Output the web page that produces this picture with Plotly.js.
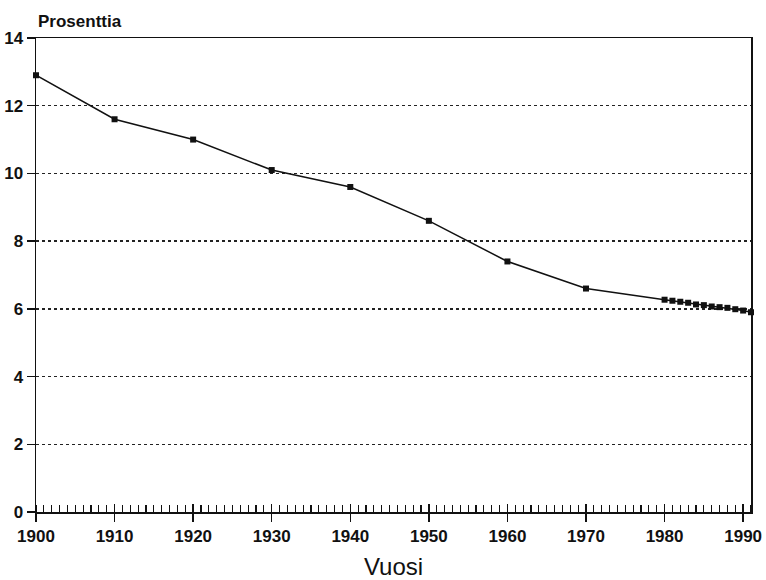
<!DOCTYPE html>
<html>
<head>
<meta charset="utf-8">
<script src="https://cdn.plot.ly/plotly-3.0.1.min.js"></script>
<style>html,body{margin:0;padding:0;background:#fff;}#chart{width:766px;height:580px;}</style>
</head>
<body>
<div id="chart"></div>
<script>
const years = [1900, 1910, 1920, 1930, 1940, 1950, 1960, 1970, 1980, 1981, 1982, 1983, 1984, 1985, 1986, 1987, 1988, 1989, 1990, 1991];
const percent = [12.9, 11.6, 11.0, 10.1, 9.6, 8.6, 7.4, 6.6, 6.27, 6.24, 6.21, 6.18, 6.13, 6.11, 6.07, 6.05, 6.03, 5.99, 5.95, 5.90];
const xTickVals = [1900, 1910, 1920, 1930, 1940, 1950, 1960, 1970, 1980, 1990];
const yTickVals = [0, 2, 4, 6, 8, 10, 12, 14];
const yLabel = "Prosenttia";
const xLabel = "Vuosi";

const tickFont = {family: "Liberation Sans, Arial, sans-serif", size: 17, color: "#111", weight: "bold"};

const data = [{
  x: years, y: percent, type: "scatter", mode: "lines+markers",
  line: {color: "#111", width: 1.5},
  marker: {symbol: "square", size: 6, color: "#111"},
  showlegend: false, cliponaxis: false
}, {
  x: [years[0]], y: [percent[0]], xaxis: "x2", type: "scatter", mode: "markers",
  marker: {opacity: 0}, showlegend: false, hoverinfo: "skip"
}];

const layout = {
  width: 766, height: 580,
  margin: {l: 36, r: 15, t: 38, b: 68},
  paper_bgcolor: "#fff", plot_bgcolor: "#fff",
  xaxis: {
    range: [1900, 1991], tickvals: xTickVals, ticks: "outside", ticklen: 8, tickwidth: 1.5, tickcolor: "#111",
    minor: {dtick: 1, tick0: 1900, ticks: "inside", ticklen: 7, tickwidth: 1.2, tickcolor: "#111", showgrid: false},
    showline: true, linecolor: "#111", linewidth: 1.5, mirror: true, showgrid: false, zeroline: false,
    tickfont: tickFont,
    title: {text: xLabel, font: {family: "Liberation Sans, Arial, sans-serif", size: 24, color: "#111"}, standoff: 15}
  },
  xaxis2: {
    overlaying: "x", matches: "x", range: [1900, 1991], side: "bottom", anchor: "y",
    tickvals: xTickVals, ticks: "inside", ticklen: 8, tickwidth: 1.5, tickcolor: "#111",
    showticklabels: false, showgrid: false, zeroline: false, showline: false
  },
  yaxis: {
    range: [0, 14], tickvals: yTickVals, ticks: "outside", ticklen: 8, tickwidth: 1.5, tickcolor: "#111",
    showline: true, linecolor: "#111", linewidth: 1.5, mirror: true,
    showgrid: true, gridcolor: "#222", griddash: "dot", gridwidth: 1.3, zeroline: false,
    tickfont: tickFont
  },
  annotations: [{
    text: yLabel, xref: "paper", yref: "paper", x: 0, y: 1, xanchor: "left", yanchor: "bottom",
    xshift: 0, yshift: 5, showarrow: false,
    font: {family: "Liberation Sans, Arial, sans-serif", size: 17, color: "#111", weight: "bold"}
  }]
};

Plotly.newPlot("chart", data, layout, {displayModeBar: false, staticPlot: true});
</script>
</body>
</html>
